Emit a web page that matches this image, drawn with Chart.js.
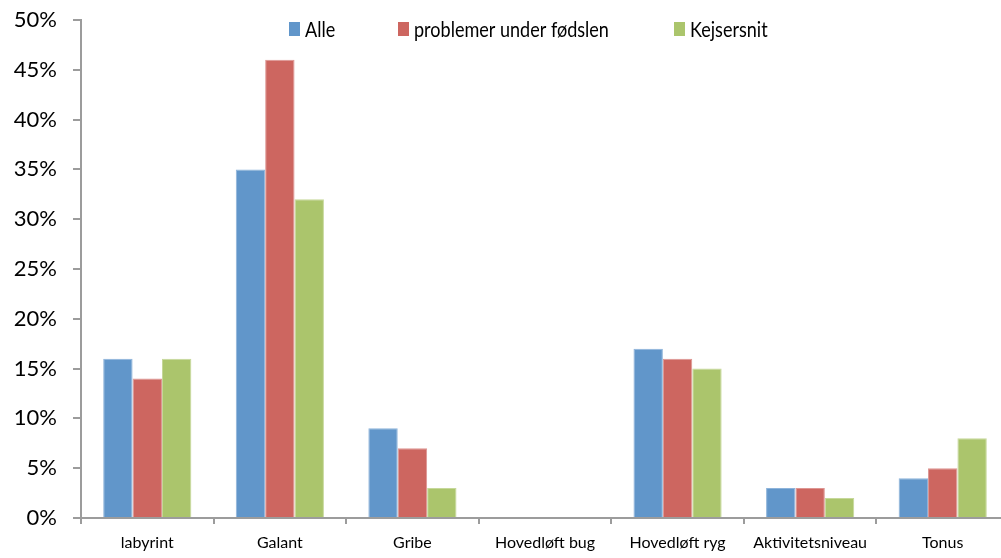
<!DOCTYPE html>
<html>
<head>
<meta charset="utf-8">
<script src="https://cdn.jsdelivr.net/npm/chart.js@4/dist/chart.umd.min.js"></script>
<style>
  html, body { margin: 0; padding: 0; background: #fff; overflow: hidden; }
  #wrap { width: 1010px; height: 558px; position: relative; }
</style>
</head>
<body>
<div id="wrap"><canvas id="c" width="1010" height="558"></canvas></div>
<script>
// Motor findings by group, in percent
const categories = ['labyrint', 'Galant', 'Gribe', 'Hovedløft bug', 'Hovedløft ryg', 'Aktivitetsniveau', 'Tonus'];
const seriesNames = ['Alle', 'problemer under fødslen', 'Kejsersnit'];
const alle = [16, 35, 9, 0, 17, 3, 4];
const problemer = [14, 46, 7, 0, 16, 3, 5];
const kejsersnit = [16, 32, 3, 0, 15, 2, 8];
const yTicks = [0, 5, 10, 15, 20, 25, 30, 35, 40, 45, 50];

const fills = ['#6196CA', '#CD6660', '#ABC56C'];
const edges = ['#8DB3DA', '#DD9592', '#C6D89A'];
const FONT = 'Lato, "Open Sans", sans-serif';

// Legend drawn as a floating row inside the plot area, in a condensed face
const floatingLegend = {
  id: 'floatingLegend',
  afterDraw(chart) {
    const ctx = chart.ctx;
    const xs = [289, 398, 674];
    const cy = 29;
    const squeeze = 0.82;
    ctx.save();
    ctx.font = '22px ' + FONT;
    ctx.textBaseline = 'middle';
    ctx.textAlign = 'left';
    chart.data.datasets.forEach((ds, i) => {
      ctx.fillStyle = ds.backgroundColor;
      ctx.fillRect(xs[i], cy - 7, 11, 14);
      ctx.save();
      ctx.translate(xs[i] + 16, cy + 1);
      ctx.scale(squeeze, 1);
      ctx.fillStyle = '#000';
      ctx.fillText(ds.label, 0, 0);
      ctx.restore();
    });
    ctx.restore();
  }
};

const data = {
  labels: categories,
  datasets: [alle, problemer, kejsersnit].map((vals, i) => ({
    label: seriesNames[i],
    data: vals,
    backgroundColor: fills[i],
    borderColor: edges[i],
    borderWidth: 1,
    categoryPercentage: 0.665,
    barPercentage: 1.0
  }))
};

new Chart(document.getElementById('c'), {
  type: 'bar',
  data,
  plugins: [floatingLegend],
  options: {
    responsive: false,
    animation: false,
    layout: { padding: { top: 20, right: 1, left: 0, bottom: 0 } },
    plugins: {
      legend: { display: false },
      tooltip: { enabled: false }
    },
    scales: {
      x: {
        grid: {
          offset: true,
          drawOnChartArea: false,
          drawTicks: true,
          tickLength: 6,
          color: '#9C9C9C',
          lineWidth: 2
        },
        border: { display: true, color: '#9C9C9C', width: 2 },
        ticks: {
          color: '#000',
          font: { family: FONT, size: 16 },
          padding: 9,
          maxRotation: 0,
          autoSkip: false
        },
        afterFit(scale) { scale.height = 40; }
      },
      y: {
        min: 0,
        max: 50,
        afterBuildTicks(scale) { scale.ticks = yTicks.map(v => ({ value: v })); },
        grid: {
          drawOnChartArea: false,
          drawTicks: true,
          tickLength: 8,
          color: '#9C9C9C',
          lineWidth: 2
        },
        border: { display: true, color: '#9C9C9C', width: 2 },
        ticks: {
          color: '#000',
          font: { family: FONT, size: 22 },
          padding: 16,
          callback: v => v + '%'
        },
        afterFit(scale) {
          scale.width = 81;
          scale.paddingTop = 0;
          scale.paddingBottom = 0;
        }
      }
    }
  }
});
</script>
</body>
</html>
